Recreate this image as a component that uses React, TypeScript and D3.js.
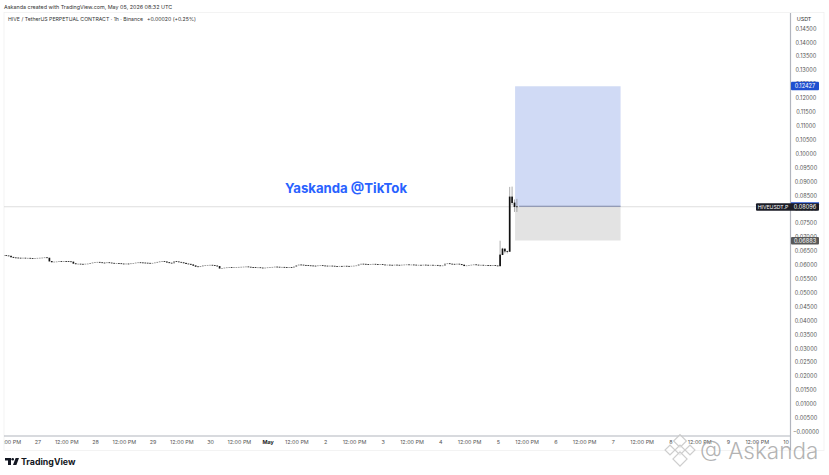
import * as d3 from "d3";

const W = 829;
const H = 475;

// hourly closes, first candle Apr 26 10:00 UTC
const closes = [
  0.0634, 0.0633, 0.0632, 0.0628, 0.0626, 0.06255, 0.0625, 0.06245, 0.0625, 0.0624, 0.06245, 0.0624, 0.06235,
  0.0624, 0.06245, 0.0625, 0.06255, 0.06265, 0.0625, 0.0613, 0.061, 0.0611, 0.06115, 0.06125, 0.0612, 0.0613,
  0.06125, 0.0612, 0.0611, 0.0605, 0.0603, 0.06035, 0.0603, 0.06025, 0.06035, 0.0604, 0.0606, 0.0608, 0.06095,
  0.061, 0.06085, 0.06075, 0.0607, 0.06085, 0.06075, 0.06065, 0.06055, 0.0606, 0.0605, 0.0604, 0.06035, 0.0604,
  0.06035, 0.0605, 0.0606, 0.06075, 0.06085, 0.0608, 0.06075, 0.0607, 0.06065, 0.0606, 0.06065, 0.0608, 0.061,
  0.0612, 0.0613, 0.06115, 0.0609, 0.0607, 0.0606, 0.06125, 0.06115, 0.061, 0.06085, 0.06065, 0.0604, 0.0603,
  0.0601, 0.05975, 0.0594, 0.0593, 0.0595, 0.05975, 0.0598, 0.0599, 0.05995, 0.05985, 0.0597, 0.0595, 0.05875,
  0.0588, 0.05895, 0.05905, 0.0591, 0.05905, 0.0591, 0.05915, 0.0592, 0.05925, 0.0593, 0.05935, 0.05925, 0.05915,
  0.0591, 0.05905, 0.05905, 0.05895, 0.0589, 0.05895, 0.05905, 0.0591, 0.0592, 0.0593, 0.05925, 0.05915, 0.0592,
  0.0591, 0.05905, 0.05915, 0.05905, 0.05935, 0.05985, 0.06005, 0.06, 0.0599, 0.05985, 0.05975, 0.0597, 0.05965,
  0.0596, 0.05975, 0.0598, 0.0597, 0.05965, 0.05955, 0.05965, 0.0596, 0.0595, 0.05945, 0.05955, 0.0595, 0.0596,
  0.05955, 0.0595, 0.0596, 0.05965, 0.05975, 0.06015, 0.06035, 0.0603, 0.0602, 0.06015, 0.06025, 0.0603, 0.0602,
  0.0601, 0.0602, 0.06005, 0.05995, 0.06, 0.05995, 0.0599, 0.06, 0.05995, 0.0599, 0.06, 0.06005, 0.0601, 0.06,
  0.06005, 0.06, 0.0599, 0.05995, 0.05985, 0.06, 0.05995, 0.0599, 0.05995, 0.05985, 0.0599, 0.05975, 0.0596,
  0.05975, 0.0604, 0.0605, 0.06035, 0.0603, 0.06025, 0.06035, 0.0602, 0.06, 0.05965, 0.05975, 0.05985, 0.06,
  0.0601, 0.06, 0.0599, 0.05995, 0.05985, 0.05985, 0.0598, 0.05975, 0.05985, 0.0597, 0.0596,
  0.06362, 0.06578, 0.0649, 0.0648, 0.08447, 0.08232, 0.08088, 0.08096,
];

// only the last candles have wicks you can see
const wickFrom = 207;
const wickHighs = [0.06876, 0.0662, 0.0655, 0.0652, 0.0881, 0.0882, 0.0836, 0.0838];
const wickLows = [0.0596, 0.0636, 0.0642, 0.0642, 0.0648, 0.0815, 0.0791, 0.0791];

const priceTicks = d3.range(0, 30).map((d) => d * 0.005);
const dayLabels = ["27", "28", "29", "30", "May", "2", "3", "4", "5", "6", "7", "8", "9", "10"];

const lastPrice = 0.08096;
const targetPrice = 0.12427;
const stopPrice = 0.06883;

const start = new Date(Date.UTC(2026, 3, 26, 10));
const day0 = new Date(Date.UTC(2026, 3, 27));
const day13 = new Date(Date.UTC(2026, 4, 10));
const boxStart = new Date(Date.UTC(2026, 4, 5, 7));
const boxEnd = new Date(Date.UTC(2026, 4, 7, 3));

const y = d3.scaleLinear().domain([0, 0.145]).range([432, 28.6]);
const x = d3.scaleUtc().domain([day0, day13]).range([38, 786]);

const FONT = "Inter, 'Liberation Sans', sans-serif";

export default function App() {
  const plotRight = 790.5;
  const plotBottom = 436;

  const candles = closes.map((close, i) => {
    const open = i === 0 ? close : closes[i - 1];
    const spike = i >= wickFrom;
    return {
      time: d3.utcHour.offset(start, i),
      open,
      close,
      high: spike ? wickHighs[i - wickFrom] : Math.max(open, close),
      low: spike ? wickLows[i - wickFrom] : Math.min(open, close),
      spike,
    };
  });

  const dayTicks = dayLabels.map((label, i) => ({ label, at: d3.utcDay.offset(day0, i) }));
  const noonTicks = d3.range(-1, 13).map((i) => d3.utcHour.offset(day0, i * 24 + 12));

  const boxX0 = x(boxStart);
  const boxX1 = x(boxEnd);

  return (
    <svg
      width={W}
      height={H}
      viewBox={`0 0 ${W} ${H}`}
      style={{ position: "absolute", left: 0, top: 0, background: "#fff", fontFamily: FONT }}
    >
      <defs>
        <clipPath id="plot">
          <rect x={4} y={13} width={plotRight - 4} height={plotBottom - 13} />
        </clipPath>
        <clipPath id="plot-time">
          <rect x={4} y={437} width={plotRight - 4} height={13} />
        </clipPath>
      </defs>

      <text x={4} y={8.8} fontSize={5.4} fill="#333">
        Askanda created with TradingView.com, May 05, 2026 08:32 UTC
      </text>

      <rect x={4} y={12.5} width={820} height={438} fill="none" stroke="#f0f0f0" strokeWidth={0.8} />

      <text x={8} y={20.8} fontSize={5.2} fill="#333">
        HIVE / TetherUS PERPETUAL CONTRACT · 1h · Binance
      </text>
      <text x={147} y={20.8} fontSize={5.2} fill="#333">
        +0.00020 (+0.25%)
      </text>

      {/* position tool */}
      <rect x={boxX0} y={y(targetPrice)} width={boxX1 - boxX0} height={y(lastPrice) - y(targetPrice)} fill="#d0daf5" />
      <rect x={boxX0} y={y(lastPrice)} width={boxX1 - boxX0} height={y(stopPrice) - y(lastPrice)} fill="#e3e3e3" />

      {/* last price line */}
      <line x1={4} x2={plotRight} y1={y(lastPrice)} y2={y(lastPrice)} stroke="#d6d6d6" strokeWidth={0.8} />
      <line x1={boxX0 + 4} x2={boxX1} y1={y(lastPrice) - 0.5} y2={y(lastPrice) - 0.5} stroke="#7c87a6" strokeWidth={1} />

      <g clipPath="url(#plot)">
        {candles.map((c) => {
          const cx = x(c.time) - 0.6;
          const top = y(Math.max(c.open, c.close));
          const bottom = y(Math.min(c.open, c.close));
          return (
            <g key={c.time.getTime()}>
              {c.spike && <line x1={cx} x2={cx} y1={y(c.high)} y2={y(c.low)} stroke="#8a8a8a" strokeWidth={0.7} />}
              <rect
                x={cx - 0.85}
                y={top - 0.4}
                width={1.7}
                height={Math.max(bottom - top, 0.4) + 0.4}
                fill={c.close >= c.open && !c.spike ? "#8c8c8c" : "#111"}
              />
            </g>
          );
        })}
      </g>

      <text x={346} y={192.6} fontSize={13.2} fontWeight={700} fill="#2962ff" textAnchor="middle">
        Yaskanda @TikTok
      </text>

      {/* axes */}
      <line x1={plotRight} x2={plotRight} y1={13} y2={450} stroke="#b2b5be" strokeWidth={1.2} />
      <line x1={4} x2={plotRight} y1={plotBottom} y2={plotBottom} stroke="#b2b5be" strokeWidth={1.2} />

      {priceTicks.map((p) => (
        <text key={p} x={806} y={y(p) + 2} fontSize={5.6} fill="#555" textAnchor="middle">
          {p === 0 ? "−0.00000" : p.toFixed(5)}
        </text>
      ))}

      <rect x={795} y={14} width={22} height={10} rx={2} fill="#fff" />
      <text x={804} y={21} fontSize={5.4} fill="#333" textAnchor="middle">
        USDT
      </text>

      <g clipPath="url(#plot-time)">
        {noonTicks.map((t) => (
          <text key={t.getTime()} x={x(t)} y={444} fontSize={5.4} fill="#555" textAnchor="middle">
            12:00 PM
          </text>
        ))}
        {dayTicks.map((d) => (
          <text
            key={d.label}
            x={x(d.at)}
            y={444}
            fontSize={5.4}
            fill={d.label === "May" ? "#222" : "#555"}
            fontWeight={d.label === "May" ? 700 : 400}
            textAnchor="middle"
          >
            {d.label}
          </text>
        ))}
      </g>

      {/* price labels */}
      <rect x={791} y={y(targetPrice) - 4.5} width={28} height={8.5} rx={1} fill="#1e4fd0" />
      <text x={805} y={y(targetPrice) + 2} fontSize={5.6} fill="#fff" textAnchor="middle">
        0.12427
      </text>

      <rect x={791} y={y(lastPrice) - 4.5} width={28} height={2} fill="#1e4fd0" />
      <rect x={756} y={y(lastPrice) - 3.5} width={63} height={7.5} rx={1} fill="#1b1d26" />
      <text x={773} y={y(lastPrice) + 2} fontSize={5.2} fill="#fff" textAnchor="middle">
        HIVEUSDT.P
      </text>
      <text x={805} y={y(lastPrice) + 2} fontSize={5.6} fill="#fff" textAnchor="middle">
        0.08096
      </text>

      <rect x={791} y={y(stopPrice) - 3.5} width={28} height={7.5} rx={1} fill="#5a5a5a" />
      <text x={805} y={y(stopPrice) + 2} fontSize={5.6} fill="#fff" textAnchor="middle">
        0.06883
      </text>

      {/* TradingView logo */}
      <g fill="#131722">
        <path d="M5 458h6v7h-3v-4.4h-3z" />
        <circle cx={12.7} cy={459.3} r={1.3} />
        <path d="M13 465l2.6-7H19l-2.6 7z" />
      </g>
      <text x={21} y={465} fontSize={8.8} fontWeight={700} fill="#131722">
        TradingView
      </text>

      {/* watermark */}
      <g fill="none" stroke="#c9c9c9" strokeWidth={1.2} opacity={0.9}>
        {[
          [680, 441, 4.5],
          [670, 450, 3.5],
          [690, 450, 3.5],
          [680, 450, 3.5],
          [680, 459, 5],
        ].map(([cx, cy, r]) => (
          <rect
            key={`${cx}-${cy}`}
            x={cx - r}
            y={cy - r}
            width={r * 2}
            height={r * 2}
            transform={`rotate(45 ${cx} ${cy})`}
            fill="#fff"
            fillOpacity={0.6}
          />
        ))}
      </g>
      <text x={700} y={459} fontSize={22.5} fontWeight={300} fill="#9a9a9a" fillOpacity={0.75}>
        @ Askanda
      </text>
    </svg>
  );
}
